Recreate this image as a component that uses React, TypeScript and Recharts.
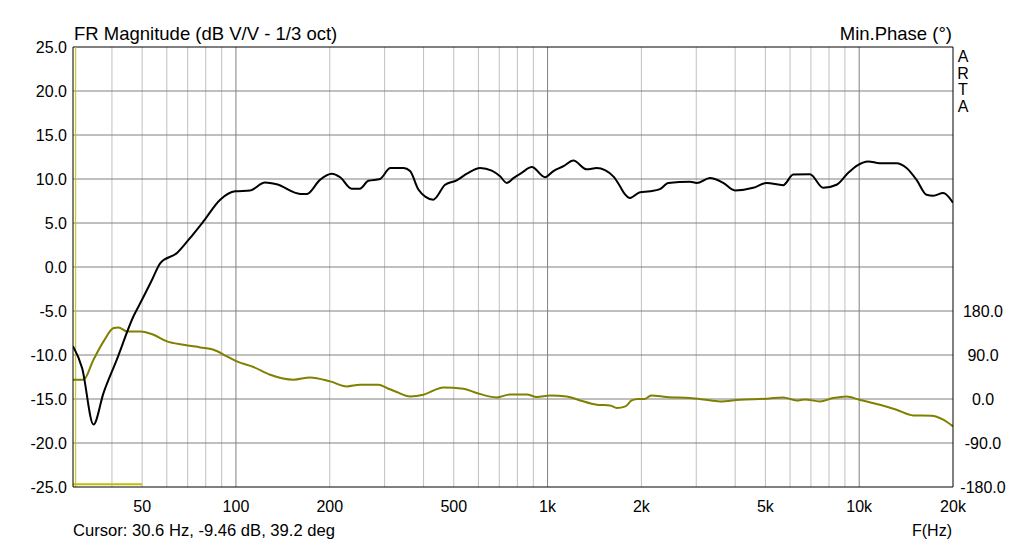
import React from 'react';
import { LineChart, Line, XAxis, YAxis, ReferenceLine } from 'recharts';

const magFreq = [30, 32.1, 34.9, 37.6, 41.5, 46.9, 50, 53.8, 57.2, 64.7, 70.5, 78.7, 89, 99.5, 111, 124, 135, 161, 169, 186, 203, 216, 235, 250, 266, 290, 313, 345, 362, 385, 405, 430, 469, 511, 551, 608, 662, 704, 740, 777, 826, 890, 982, 1044, 1125, 1210, 1335, 1438, 1625, 1700, 1760, 1839, 1980, 2131, 2295, 2440, 2863, 3009, 3319, 3662, 3993, 4572, 5046, 5704, 6143, 6949, 7665, 8462, 9220, 9809, 10690, 11650, 13180, 14190, 15280, 16450, 17280, 18600, 20000];
const magDb = [-9.0, -11.5, -17.9, -14.3, -10.5, -5.6, -3.7, -1.45, 0.45, 1.6, 3.1, 5.2, 7.65, 8.6, 8.7, 9.6, 9.4, 8.3, 8.3, 9.9, 10.6, 10.2, 8.9, 8.9, 9.8, 10.0, 11.25, 11.25, 10.9, 8.8, 8.0, 7.65, 9.35, 9.85, 10.6, 11.25, 10.95, 10.3, 9.55, 10.1, 10.7, 11.35, 10.2, 10.9, 11.45, 12.1, 11.1, 11.25, 10.3, 9.3, 8.4, 7.85, 8.5, 8.6, 8.85, 9.55, 9.7, 9.55, 10.1, 9.55, 8.7, 9.0, 9.55, 9.3, 10.5, 10.55, 9.0, 9.35, 10.7, 11.5, 12.0, 11.8, 11.8, 11.25, 9.9, 8.2, 8.1, 8.4, 7.3];

const phaseFreq = [30, 32.4, 34.9, 37.6, 40.5, 42, 44.7, 49.4, 54.4, 60.1, 67.9, 76.8, 84.8, 93.6, 100.7, 113.9, 128.8, 153, 173, 200.6, 227, 250, 287, 305, 328, 362, 400, 463, 537, 592, 687, 758, 858, 923, 1019, 1152, 1272, 1438, 1587, 1667, 1778, 1862, 1950, 2047, 2149, 2411, 2863, 3160, 3575, 4143, 5046, 5704, 6295, 6692, 7476, 8251, 9106, 10000, 11650, 13180, 14910, 17070, 18600, 20000];
const phaseDeg = [39.5, 39.5, 80.4, 117.8, 145.2, 146.5, 138.3, 138.3, 131.5, 117.8, 111, 105.5, 100.8, 87.1, 76.9, 65.4, 49.7, 39.5, 44.2, 36, 25.8, 29.2, 29.2, 22.5, 14.3, 5.3, 8.8, 23.7, 21, 12.3, 3.3, 9.4, 9.4, 4.1, 7.4, 5.3, -2.9, -11.7, -13.1, -18.4, -15.1, -2.9, 0, 0, 7.4, 4.1, 2.0, -0.8, -4.9, -1.4, 0.6, 3.3, -2.9, -0.8, -4.9, 2.0, 5.3, -1.4, -11.7, -21.9, -33.5, -34.2, -42.3, -56];

const xTicks = [50, 100, 200, 500, 1000, 2000, 5000, 10000, 20000];
const xTickLabels = ['50', '100', '200', '500', '1k', '2k', '5k', '10k', '20k'];
const magTicks = [-25, -20, -15, -10, -5, 0, 5, 10, 15, 20, 25];
const phaseTicks = [-180, -90, 0, 90, 180];
const minorFreqs = [40, 50, 60, 70, 80, 90, 200, 300, 400, 500, 600, 700, 800, 900, 2000, 3000, 4000, 5000, 6000, 7000, 8000, 9000];
const majorFreqs = [100, 1000, 10000];
const cursorFreq = 30.6;
const barRange = [30, 50];
const barLevel = -24.7;

const magData = magFreq.map((f, i) => ({ f, v: magDb[i] }));
const phaseData = phaseFreq.map((f, i) => ({ f, v: phaseDeg[i] }));

const FONT = '"Liberation Sans", Arial, sans-serif';
const txt = { fontFamily: FONT, fontSize: 16, fill: '#000' } as const;
const big = { fontFamily: FONT, fontSize: 18.5, fill: '#000' } as const;

const XTick = (props: any) => {
  const { x, payload } = props;
  const idx = xTicks.indexOf(payload.value);
  return <text x={x} y={512} textAnchor="middle" {...txt}>{xTickLabels[idx]}</text>;
};
const LTick = (props: any) => {
  const { x, y, payload } = props;
  return <text x={x} y={y + 6} textAnchor="end" {...txt}>{payload.value.toFixed(1)}</text>;
};
const RTick = (props: any) => {
  const { x, y, payload } = props;
  return <text x={x + 30} y={y + 6} textAnchor="middle" {...txt}>{payload.value.toFixed(1)}</text>;
};

export default function App() {
  return (
    <div style={{ position: 'absolute', left: 0, top: 0, width: 1025, height: 545, background: '#fff' }}>
      <LineChart width={1025} height={545} margin={{ top: 47, right: 0, bottom: 0, left: 0 }}>
        <XAxis dataKey="f" type="number" scale="log" domain={[30, 20000]} allowDataOverflow ticks={xTicks}
          height={58} tickSize={0} tickMargin={6} tick={<XTick />} axisLine={{ stroke: '#000', strokeWidth: 1 }} />
        <YAxis yAxisId="mag" orientation="left" type="number" domain={[-25, 25]} ticks={magTicks} width={73}
          tickSize={0} tickMargin={6} tick={<LTick />} axisLine={{ stroke: '#000', strokeWidth: 1 }} allowDataOverflow />
        <YAxis yAxisId="ph" orientation="right" type="number" domain={[-180, 720]} ticks={phaseTicks} width={72}
          tickSize={0} tickMargin={0} tick={<RTick />} axisLine={{ stroke: '#000', strokeWidth: 1 }} allowDataOverflow />

        {minorFreqs.map((f) => (
          <ReferenceLine key={'mi' + f} yAxisId="mag" x={f} stroke="#c0c0c0" strokeWidth={1} />
        ))}
        {majorFreqs.map((f) => (
          <ReferenceLine key={'ma' + f} yAxisId="mag" x={f} stroke="#808080" strokeWidth={1} />
        ))}
        {magTicks.slice(1, -1).map((v) => (
          <ReferenceLine key={'h' + v} yAxisId="mag" y={v} stroke="#808080" strokeWidth={1} />
        ))}
        <ReferenceLine yAxisId="mag" y={25} stroke="#000" strokeWidth={1} />
        <ReferenceLine yAxisId="mag" x={cursorFreq} stroke="#c0c000" strokeWidth={1} />
        <ReferenceLine yAxisId="mag" segment={[{ x: barRange[0], y: barLevel }, { x: barRange[1], y: barLevel }]} stroke="#c0c000" strokeWidth={2} />

        <Line yAxisId="ph" data={phaseData} dataKey="v" type="monotone" stroke="#808000" strokeWidth={2} dot={false} isAnimationActive={false} />
        <Line yAxisId="mag" data={magData} dataKey="v" type="monotone" stroke="#000" strokeWidth={2} dot={false} isAnimationActive={false} />
      </LineChart>
      <svg width={1025} height={545} style={{ position: 'absolute', left: 0, top: 0, pointerEvents: 'none' }}>
        <text x={74} y={40} {...big}>FR Magnitude (dB V/V - 1/3 oct)</text>
        <text x={952} y={40} textAnchor="end" {...big}>Min.Phase (°)</text>
        <text x={963} y={62} textAnchor="middle" {...txt}>A</text>
        <text x={963} y={78.5} textAnchor="middle" {...txt}>R</text>
        <text x={963} y={95} textAnchor="middle" {...txt}>T</text>
        <text x={963} y={112} textAnchor="middle" {...txt}>A</text>
        <text x={73} y={536} {...txt} fontSize={16.6}>Cursor: 30.6 Hz, -9.46 dB, 39.2 deg</text>
        <text x={952} y={536} textAnchor="end" {...txt}>F(Hz)</text>
      </svg>
    </div>
  );
}
